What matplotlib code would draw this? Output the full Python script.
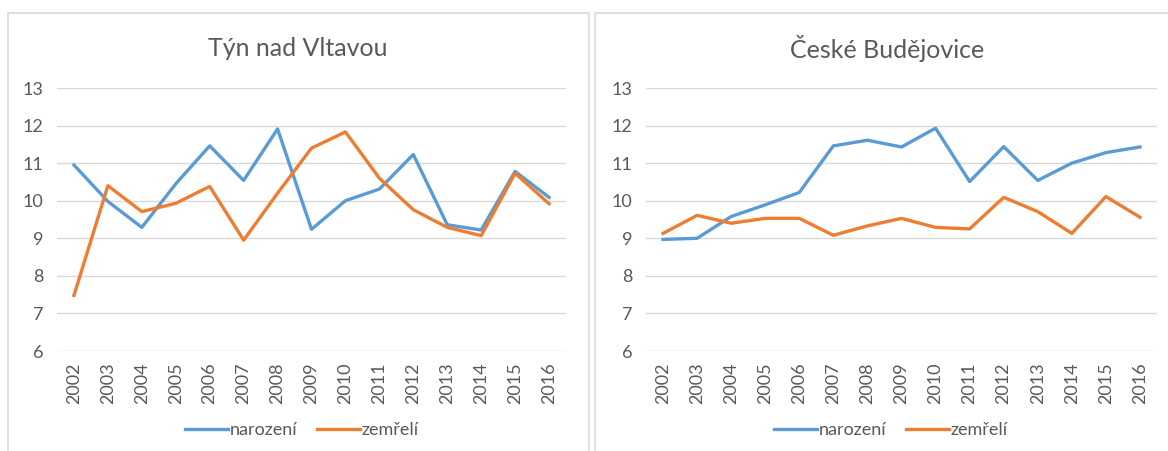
import matplotlib
matplotlib.use('Agg')
import matplotlib.pyplot as plt
from matplotlib.patches import Rectangle

years = [str(y) for y in range(2002, 2017)]
tyn_narozeni = [10.95, 9.98, 9.29, 10.45, 11.46, 10.54, 11.91, 9.24, 10.0, 10.31, 11.23, 9.36, 9.22, 10.78, 10.09]
tyn_zemreli = [7.48, 10.40, 9.71, 9.93, 10.38, 8.95, 10.2, 11.40, 11.83, 10.60, 9.76, 9.29, 9.07, 10.73, 9.92]
cb_narozeni = [8.97, 9.0, 9.58, 9.89, 10.22, 11.46, 11.61, 11.43, 11.93, 10.51, 11.44, 10.54, 11.0, 11.28, 11.43]
cb_zemreli = [9.13, 9.61, 9.40, 9.53, 9.53, 9.08, 9.33, 9.53, 9.29, 9.25, 10.09, 9.71, 9.13, 10.11, 9.56]
titles = ['Týn nad Vltavou', 'České Budějovice']
series_names = ['narození', 'zemřelí']
yticks = [6, 7, 8, 9, 10, 11, 12, 13]

BLUE = '#5B9BD5'
ORANGE = '#ED7D31'
GRID = '#D9D9D9'
TXT = '#595959'

plt.rcParams['font.family'] = ['Lato', 'DejaVu Sans']

W, H = 1168, 451
fig = plt.figure(figsize=(W / 100, H / 100), dpi=100)
fig.patch.set_facecolor('white')


def fx(x):
    return x / W


def fy(y):
    return 1 - y / H


# panel borders
for (x0, x1) in [(8, 589), (595, 1180)]:
    fig.add_artist(Rectangle((fx(x0), fy(470)), fx(x1 - x0), (470 - 13) / H,
                             transform=fig.transFigure, fill=False,
                             edgecolor=GRID, linewidth=1.2))

panels = [
    dict(ax=(57, 566), title_x=298, leg_x=302, data=(tyn_narozeni, tyn_zemreli), title=titles[0]),
    dict(ax=(646, 1157), title_x=887, leg_x=891, data=(cb_narozeni, cb_zemreli), title=titles[1]),
]

y_top, y_bot = 88, 351
for p in panels:
    x0, x1 = p['ax']
    ax = fig.add_axes([fx(x0), fy(y_bot), (x1 - x0) / W, (y_bot - y_top) / H])
    xs = list(range(len(years)))
    n, z = p['data']
    ax.plot(xs, n, color=BLUE, lw=2.4, label=series_names[0], solid_joinstyle='round')
    ax.plot(xs, z, color=ORANGE, lw=2.4, label=series_names[1], solid_joinstyle='round')
    ax.set_xlim(-0.5, len(years) - 0.5)
    ax.set_ylim(6, 13)
    ax.set_yticks(yticks)
    ax.set_yticklabels([str(t) for t in yticks])
    ax.set_xticks(xs)
    ax.set_xticklabels(years, rotation=90)
    ax.tick_params(axis='both', length=0, colors=TXT, labelsize=13)
    ax.tick_params(axis='y', pad=10)
    ax.tick_params(axis='x', pad=8)
    for s in ax.spines.values():
        s.set_visible(False)
    ax.grid(axis='y', color=GRID, lw=1.0)
    ax.set_axisbelow(True)
    fig.text(fx(p['title_x']), fy(48), p['title'], ha='center', va='center',
             fontsize=18, color=TXT)
    ax.legend(loc='center', bbox_to_anchor=(fx(p['leg_x']), fy(430)),
              bbox_transform=fig.transFigure, ncol=2, frameon=False,
              fontsize=13, handlelength=2.4, handletextpad=0.1,
              columnspacing=1.05, labelcolor=TXT)

fig.savefig('out.png', dpi=100)
